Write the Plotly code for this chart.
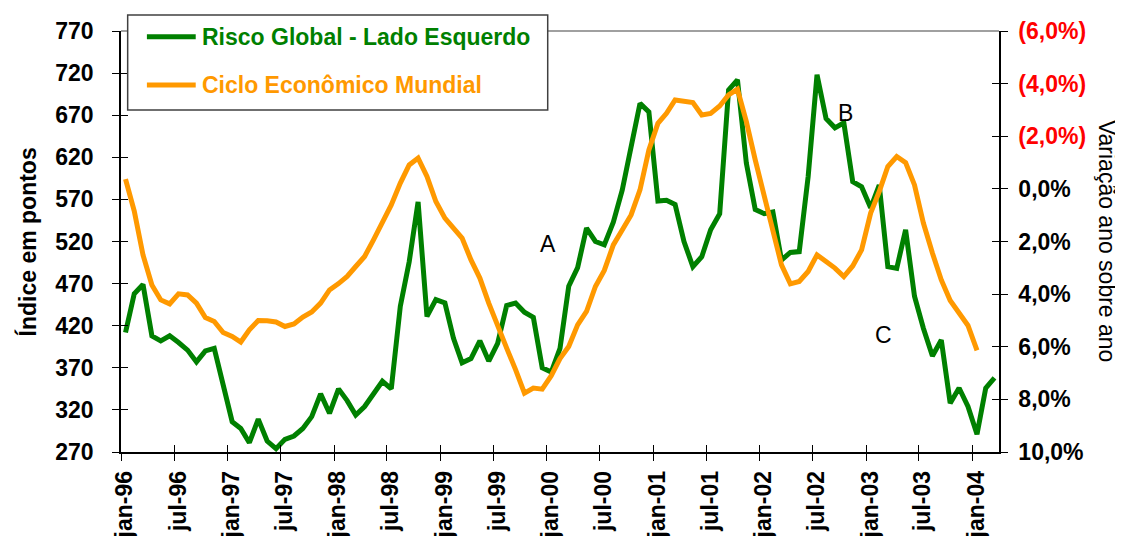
import pandas as pd
import plotly.graph_objects as go

# ---------------- data (monthly, starting jan-1996) ----------------
START = "1996-01-01"

risco_global = [
    412, 458, 469, 408, 402, 408, 400, 391, 377, 390, 393, 350,   # 1996
    306, 298, 281, 309, 283, 274, 285, 289, 298, 312, 339, 316,   # 1997
    345, 331, 314, 324, 340, 354, 345, 443, 496, 567, 431, 451,   # 1998
    447, 405, 376, 381, 402, 378, 399, 444, 447, 436, 430, 370,   # 1999
    365, 393, 467, 489, 536, 520, 516, 543, 581, 633, 684, 674,   # 2000
    568, 569, 564, 520, 490, 502, 534, 553, 700, 712, 613, 558,   # 2001
    553, 555, 498, 507, 508, 597, 718, 666, 655, 661, 591, 585,   # 2002
    560, 587, 490, 488, 534, 455, 417, 384, 403, 328, 346, 324,   # 2003
    291, 346, 358,                                                # 2004
]

ciclo_economico = [
    -0.37, 0.84, 2.51, 3.65, 4.22, 4.37, 3.99, 4.03, 4.34, 4.89, 5.04, 5.46,
    5.61, 5.82, 5.36, 5.00, 5.01, 5.06, 5.23, 5.13, 4.87, 4.68, 4.34, 3.84,
    3.60, 3.33, 2.95, 2.57, 1.94, 1.24, 0.61, -0.22, -0.91, -1.17, -0.47, 0.48,
    1.11, 1.49, 1.87, 2.70, 3.39, 4.34, 5.23, 6.05, 6.87, 7.76, 7.57, 7.61,
    7.10, 6.45, 5.99, 5.17, 4.66, 3.71, 3.10, 2.13, 1.56, 0.99, 0.04, -1.48,
    -2.49, -2.87, -3.38, -3.35, -3.28, -2.81, -2.87, -3.15, -3.57, -3.79, -2.56, -1.10,
    0.29, 1.75, 2.89, 3.61, 3.52, 3.14, 2.51, 2.76, 3.01, 3.33, 2.93, 2.32,
    0.92, 0.10, -0.85, -1.23, -1.00, -0.15, 1.30, 2.44, 3.46, 4.24, 4.68, 5.19,
    6.14,
]

x_tick_labels = ["jan-96", "jul-96", "jan-97", "jul-97", "jan-98", "jul-98",
                 "jan-99", "jul-99", "jan-00", "jul-00", "jan-01", "jul-01",
                 "jan-02", "jul-02", "jan-03", "jul-03", "jan-04"]
left_tick_values = [270, 320, 370, 420, 470, 520, 570, 620, 670, 720, 770]
right_tick_values = [-6, -4, -2, 0, 2, 4, 6, 8, 10]
right_tick_labels = ["(6,0%)", "(4,0%)", "(2,0%)", "0,0%", "2,0%",
                     "4,0%", "6,0%", "8,0%", "10,0%"]

name_green = "Risco Global - Lado Esquerdo"
name_orange = "Ciclo Econômico Mundial"
labels_points = ["A", "B", "C"]
labels_dates = ["2000-01-05", "2002-10-22", "2003-03-01"]
labels_values = [517, 673, 409]

# ---------------- styling ----------------
GREEN = "#008000"
ORANGE = "#FF9900"
RED = "#FF0000"
FONT = "Liberation Sans, Arial, sans-serif"
FS = 23

dates_green = pd.date_range(START, periods=len(risco_global), freq="MS")
dates_orange = pd.date_range(START, periods=len(ciclo_economico), freq="MS")
x_tick_vals = pd.date_range(START, periods=len(x_tick_labels), freq="6MS")
x_range = ["1996-01-01", "2004-04-01"]

right_text = []
for v, t in zip(right_tick_values, right_tick_labels):
    if v < 0:
        right_text.append(f'<span style="color:{RED}">{t}</span>')
    else:
        right_text.append(t)

fig = go.Figure()
fig.add_trace(go.Scatter(
    x=dates_green, y=risco_global, mode="lines", name=name_green,
    line=dict(color=GREEN, width=5), xperiod="M1", xperiodalignment="middle",
    yaxis="y", showlegend=False))
fig.add_trace(go.Scatter(
    x=dates_orange, y=ciclo_economico, mode="lines", name=name_orange,
    line=dict(color=ORANGE, width=5), xperiod="M1", xperiodalignment="middle",
    yaxis="y2", showlegend=False))

# empty traces so the overlay axes (inside tick halves) are drawn
fig.add_trace(go.Scatter(x=[], y=[], xaxis="x2", yaxis="y", showlegend=False, hoverinfo="skip"))
fig.add_trace(go.Scatter(x=[], y=[], xaxis="x", yaxis="y3", showlegend=False, hoverinfo="skip"))
fig.add_trace(go.Scatter(x=[], y=[], xaxis="x", yaxis="y4", showlegend=False, hoverinfo="skip"))

tickfont = dict(family=FONT, size=FS, color="black", weight="bold")

fig.update_layout(
    width=1115, height=528,
    margin=dict(l=113, r=124, t=23, b=84),
    paper_bgcolor="white", plot_bgcolor="white",
    font=dict(family=FONT, size=FS, color="black"),
    xaxis=dict(
        type="date", range=x_range, tickvals=x_tick_vals, ticktext=x_tick_labels,
        tickangle=-90, tickfont=tickfont, ticks="outside", ticklen=7,
        tickcolor="black", tickwidth=1, showline=True, linecolor="black",
        linewidth=1.5, showgrid=False, zeroline=False, automargin=False,
        ticklabelstandoff=1, ticklabelshift=4,
    ),
    xaxis2=dict(
        type="date", range=x_range, tickvals=x_tick_vals, overlaying="x",
        anchor="y", side="bottom", ticks="inside", ticklen=7, tickcolor="black",
        tickwidth=1, showticklabels=False, showline=False, showgrid=False,
        zeroline=False,
    ),
    yaxis=dict(
        range=[270, 770], tickvals=left_tick_values, tickfont=tickfont,
        ticks="outside", ticklen=7, tickcolor="black", tickwidth=1,
        showline=True, linecolor="black", linewidth=1.5, showgrid=False,
        zeroline=False, automargin=False, ticklabelstandoff=14,
    ),
    yaxis2=dict(
        range=[10, -6], tickvals=right_tick_values, ticktext=right_text,
        tickfont=tickfont, overlaying="y", side="right", anchor="x",
        ticks="outside", ticklen=7, tickcolor="black", tickwidth=1,
        showline=True, linecolor="black", linewidth=1.5, showgrid=False,
        zeroline=False, automargin=False, ticklabelstandoff=6,
    ),
    yaxis3=dict(
        range=[270, 770], tickvals=left_tick_values, overlaying="y", side="left",
        anchor="x", ticks="inside", ticklen=7, tickcolor="black", tickwidth=1,
        showticklabels=False, showline=False, showgrid=False, zeroline=False,
    ),
    yaxis4=dict(
        range=[10, -6], tickvals=right_tick_values, overlaying="y", side="right",
        anchor="x", ticks="inside", ticklen=7, tickcolor="black", tickwidth=1,
        showticklabels=False, showline=False, showgrid=False, zeroline=False,
    ),
)

# plot-area top border (gray)
fig.add_shape(type="line", xref="paper", yref="paper", x0=0, x1=1, y0=1, y1=1,
              line=dict(color="#808080", width=1.5))

# manual legend box
fig.add_shape(type="rect", xref="paper", yref="paper",
              x0=0.0076, x1=0.486, y0=0.8125, y1=1.038,
              line=dict(color="#404040", width=1.5), fillcolor="white", layer="above")
fig.add_shape(type="line", xref="paper", yref="paper",
              x0=0.0295, x1=0.0851, y0=0.9865, y1=0.9865,
              line=dict(color=GREEN, width=5), layer="above")
fig.add_shape(type="line", xref="paper", yref="paper",
              x0=0.0295, x1=0.0851, y0=0.8718, y1=0.8718,
              line=dict(color=ORANGE, width=5), layer="above")
fig.add_annotation(xref="paper", yref="paper", x=0.0899, y=0.9865,
                   text=name_green, showarrow=False, xanchor="left", yanchor="middle",
                   font=dict(family=FONT, size=FS, color=GREEN, weight="bold"))
fig.add_annotation(xref="paper", yref="paper", x=0.0899, y=0.8718,
                   text=name_orange, showarrow=False, xanchor="left", yanchor="middle",
                   font=dict(family=FONT, size=FS, color=ORANGE, weight="bold"))

# axis titles
fig.add_annotation(xref="paper", yref="paper", x=-0.106, y=0.5,
                   text="Índice em pontos", textangle=-90, showarrow=False,
                   xanchor="center", yanchor="middle",
                   font=dict(family=FONT, size=FS, color="black", weight="bold"))
fig.add_annotation(xref="paper", yref="paper", x=1.1237, y=0.5,
                   text="Variação ano sobre ano", textangle=90, showarrow=False,
                   xanchor="center", yanchor="middle",
                   font=dict(family=FONT, size=FS, color="black"))

# point labels
for t, d, v in zip(labels_points, labels_dates, labels_values):
    fig.add_annotation(x=d, y=v, xref="x", yref="y", text=t, showarrow=False,
                       font=dict(family=FONT, size=FS, color="black"))

fig.write_html("out.html")
